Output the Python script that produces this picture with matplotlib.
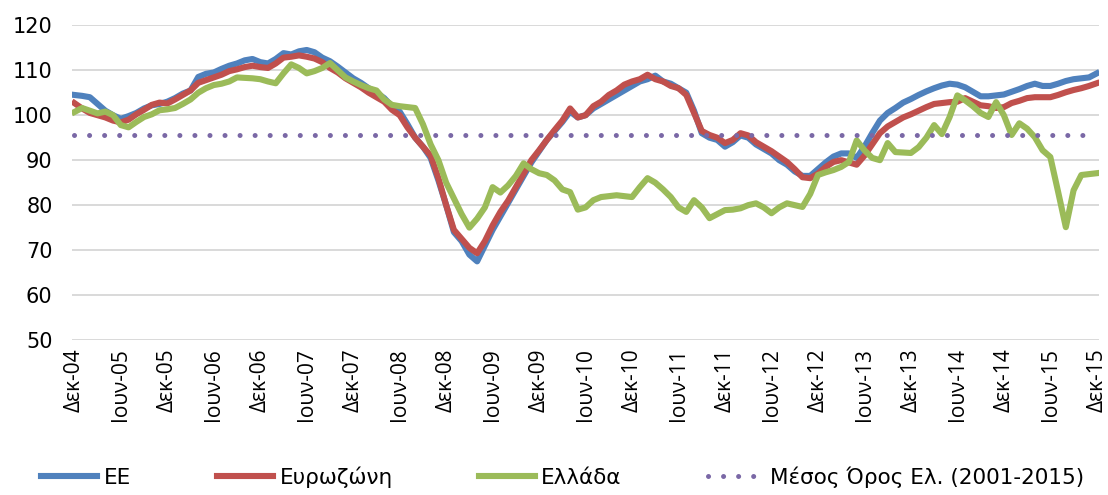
import numpy as np
import matplotlib.pyplot as plt

# monthly index, Dec-04 .. Dec-15
tick_labels = ["Δεκ-04", "Ιουν-05", "Δεκ-05", "Ιουν-06", "Δεκ-06", "Ιουν-07",
               "Δεκ-07", "Ιουν-08", "Δεκ-08", "Ιουν-09", "Δεκ-09", "Ιουν-10",
               "Δεκ-10", "Ιουν-11", "Δεκ-11", "Ιουν-12", "Δεκ-12", "Ιουν-13",
               "Δεκ-13", "Ιουν-14", "Δεκ-14", "Ιουν-15", "Δεκ-15"]

ee = [104.5, 104.3, 104.0, 102.5, 101.0, 100.0, 99.2, 99.8, 100.5, 101.5,
      102.2, 102.5, 103.0, 103.8, 104.8, 105.5, 108.5, 109.2, 109.5, 110.3,
      111.0, 111.5, 112.2, 112.5, 111.8, 111.5, 112.5, 113.8, 113.5, 114.2,
      114.5, 114.0, 112.8, 112.0, 110.8, 109.5, 108.2, 107.2, 106.0, 105.0,
      103.8, 102.0, 100.8, 98.0, 95.0, 93.0, 90.5, 85.5, 80.0, 74.0,
      72.0, 69.0, 67.5, 71.0, 74.5, 77.5, 80.5, 83.5, 86.5, 89.5,
      92.0, 94.5, 96.5, 98.5, 100.8, 99.5, 100.0, 101.5, 102.5, 103.5,
      104.5, 105.5, 106.5, 107.5, 108.0, 108.8, 107.5, 107.0, 106.0, 105.0,
      101.0, 96.0, 95.0, 94.5, 93.0, 94.0, 95.5, 95.0, 93.5, 92.5,
      91.5, 90.0, 89.0, 87.5, 86.5, 86.5, 88.0, 89.5, 90.8, 91.5,
      91.5, 90.5, 93.0, 96.0, 98.8, 100.5, 101.6, 102.8, 103.6, 104.5,
      105.3, 106.0, 106.6, 107.0, 106.8, 106.2, 105.2, 104.2, 104.2, 104.4,
      104.6, 105.2, 105.8, 106.5, 107.0, 106.5, 106.5, 107.0, 107.6, 108.0,
      108.2, 108.4, 109.3]

eurozone = [102.7, 101.5, 100.5, 100.0, 99.5, 98.8, 98.4, 99.0, 100.2, 101.2,
            102.3, 102.8, 102.6, 103.5, 104.5, 105.5, 107.2, 107.8, 108.4, 109.0,
            109.8, 110.2, 110.7, 111.0, 110.7, 110.5, 111.5, 112.8, 113.0, 113.3,
            113.0, 112.6, 111.8, 110.5, 109.5, 108.2, 107.2, 106.2, 105.0, 104.0,
            103.0, 101.2, 100.0, 97.3, 95.0, 93.0, 91.0, 86.0, 80.0, 74.5,
            72.5, 70.5, 69.3, 72.0, 75.5, 78.5, 81.0, 84.0, 87.0, 90.0,
            92.2, 94.5, 96.7, 98.8, 101.5, 99.5, 100.0, 102.0, 103.0, 104.5,
            105.5, 106.8, 107.5, 108.0, 109.0, 108.0, 107.5, 106.5, 106.0, 104.5,
            100.5, 96.5, 95.6, 95.0, 93.8, 94.5, 96.0, 95.5, 94.0, 93.0,
            92.0, 90.8, 89.6, 88.0, 86.2, 86.0, 87.0, 88.5, 89.6, 90.0,
            89.5, 89.0, 91.0, 93.5, 96.0, 97.5, 98.5, 99.5, 100.2, 101.0,
            101.8, 102.5, 102.7, 102.9, 103.0, 103.8, 103.0, 102.2, 102.0, 101.6,
            101.8, 102.7, 103.2, 103.8, 104.0, 104.0, 104.0, 104.5, 105.1, 105.6,
            106.0, 106.5, 107.1]

greece = [100.7, 101.6, 101.0, 100.4, 100.8, 100.0, 97.8, 97.3, 98.5, 99.6,
          100.2, 101.1, 101.3, 101.6, 102.5, 103.5, 105.0, 106.0, 106.7, 107.0,
          107.5, 108.4, 108.3, 108.2, 108.0, 107.5, 107.1, 109.3, 111.3, 110.5,
          109.3, 109.8, 110.5, 111.6, 110.0, 108.4, 107.5, 106.7, 106.0, 105.5,
          103.5, 102.3, 102.0, 101.8, 101.6, 98.0, 93.5, 90.0, 85.0, 81.5,
          78.0, 75.0, 77.0, 79.5, 84.0, 82.8, 84.4, 86.5, 89.3, 88.0,
          87.1, 86.7, 85.5, 83.5, 82.9, 79.0, 79.5, 81.1, 81.8, 82.0,
          82.2, 82.0, 81.8, 84.0, 86.0, 85.0, 83.5, 81.8, 79.5, 78.5,
          81.1, 79.5, 77.1, 78.0, 78.9, 79.0, 79.3, 80.0, 80.4, 79.5,
          78.2, 79.5, 80.4, 80.0, 79.6, 82.5, 86.7, 87.3, 87.8, 88.5,
          89.6, 94.4, 92.2, 90.5, 90.0, 93.8, 91.8, 91.7, 91.6, 92.9,
          95.0, 97.8, 95.8, 99.6, 104.4, 103.3, 102.0, 100.5, 99.6, 102.9,
          100.0, 95.6, 98.2, 97.0, 95.1, 92.2, 90.7, 83.0, 75.1, 83.3,
          86.7, 86.9, 87.1]

greece_avg = 95.6  # Μέσος Όρος Ελ. (2001-2015)

x = np.arange(len(ee))
avg = np.full(len(x), greece_avg)

fig = plt.figure(figsize=(11.08, 4.95), dpi=100)
ax = fig.add_axes([0.065, 0.313, 0.927, 0.636])

ax.plot(x, ee, color="#4F81BD", lw=4.4, solid_joinstyle="round", label="EE", zorder=3)
ax.plot(x, eurozone, color="#C0504D", lw=4.4, solid_joinstyle="round", label="Ευρωζώνη", zorder=4)
ax.plot(x, greece, color="#9BBB59", lw=4.4, solid_joinstyle="round", label="Ελλάδα", zorder=5)
ax.plot(x, avg, color="#7a68a6", lw=3.6, linestyle=(0, (0.01, 3.0)),
        dash_capstyle="round", label="Μέσος Όρος Ελ. (2001-2015)", zorder=6)

ax.set_ylim(50, 120)
ax.set_yticks(range(50, 121, 10))
ax.set_xlim(-0.3, 132.3)
ax.set_xticks(range(0, 133, 6))
ax.set_xticklabels(tick_labels, rotation=90, fontsize=15, family=["Open Sans", "DejaVu Sans"])
ax.tick_params(axis="y", labelsize=15, length=0, pad=14)
ax.tick_params(axis="x", length=0, pad=6)
ax.grid(axis="y", color="#d9d9d9", lw=1.4)
ax.set_axisbelow(True)
for s in ax.spines.values():
    s.set_visible(False)

handles, labels = ax.get_legend_handles_labels()
fig.legend(handles, labels, loc="center", bbox_to_anchor=(0.508, 0.036), ncol=4,
           frameon=False, fontsize=15.5, handlelength=2.6, handletextpad=0.3,
           columnspacing=4.0)

fig.savefig("out.png", dpi=100)
